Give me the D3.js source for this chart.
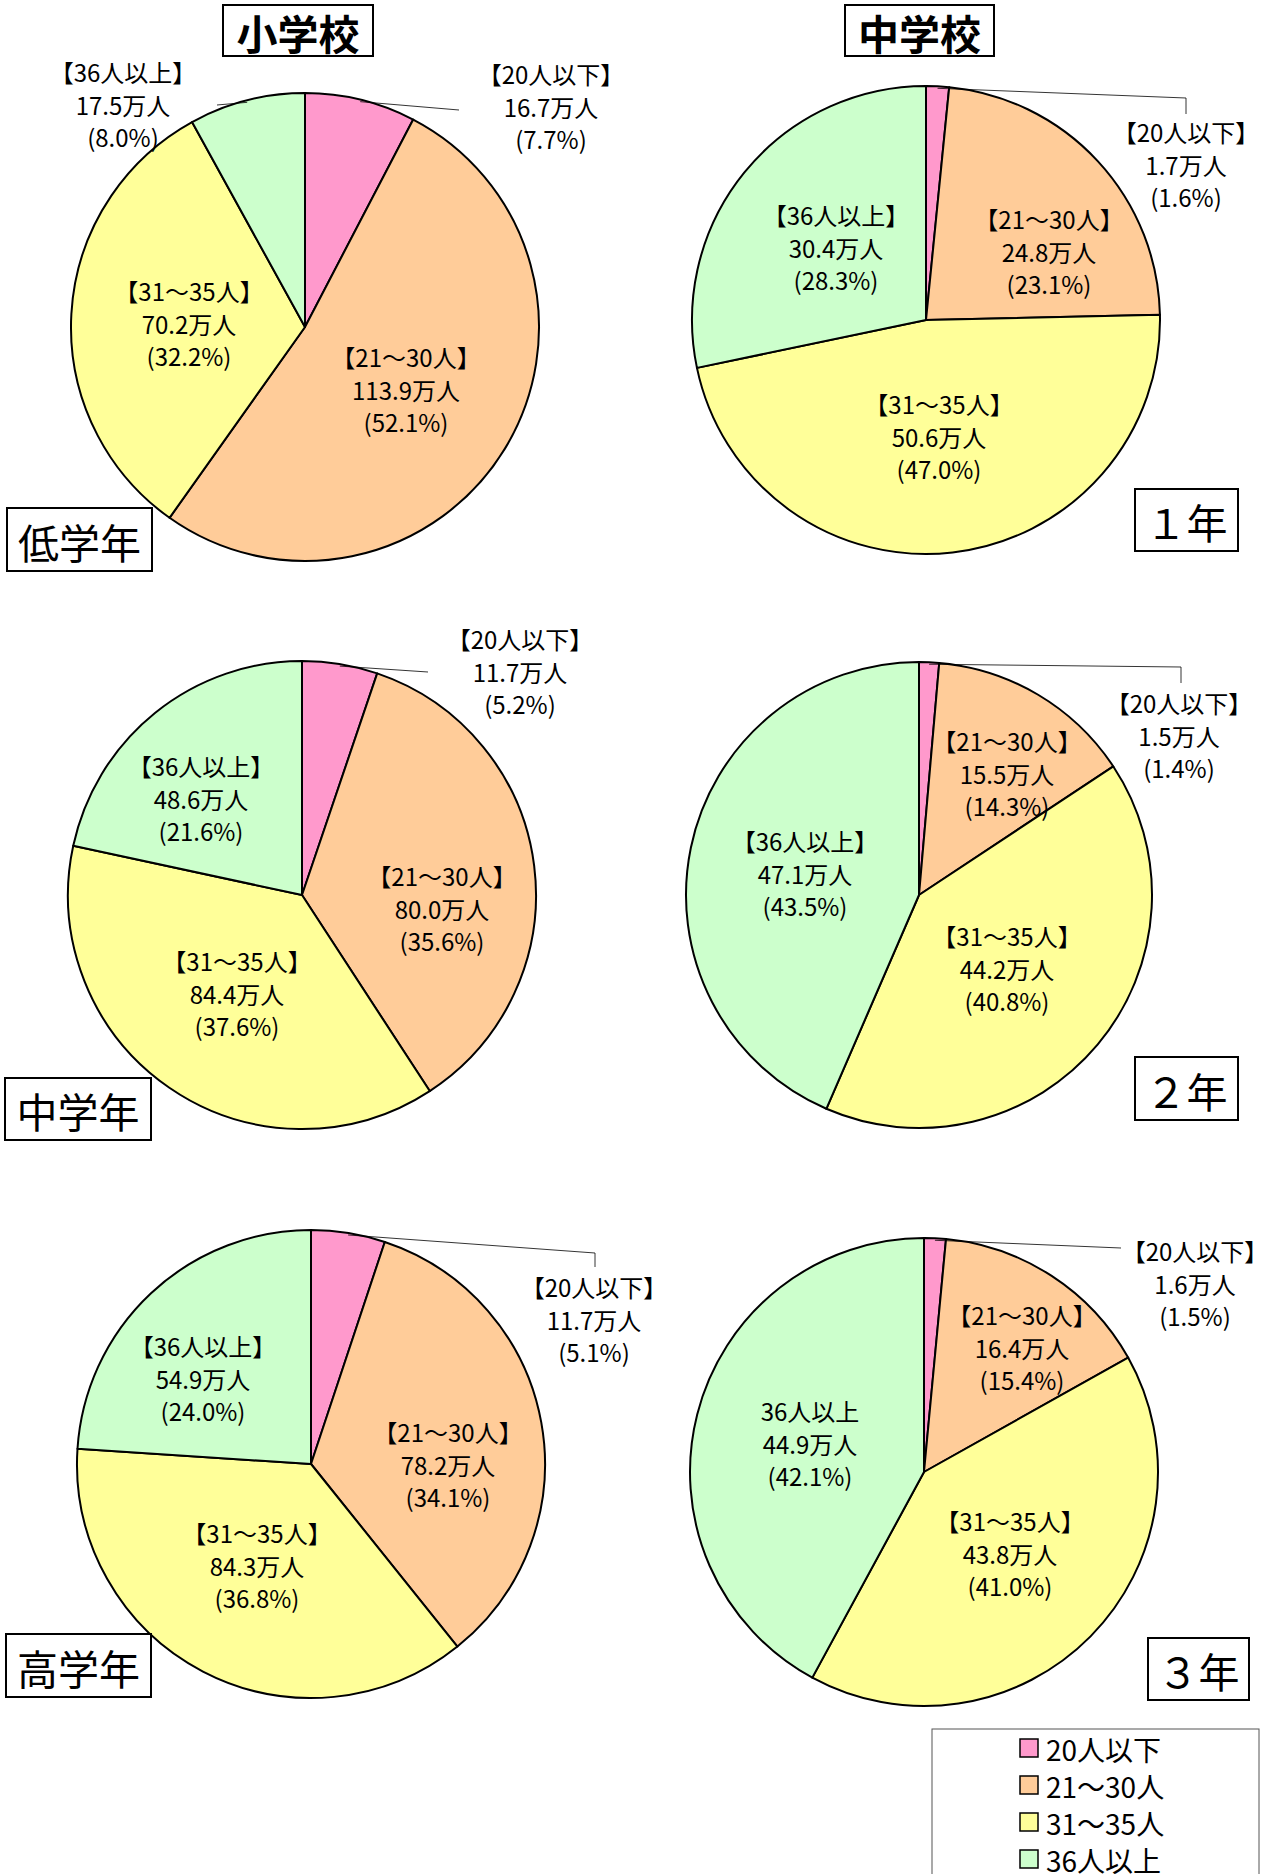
<!DOCTYPE html>
<html>
<head>
<meta charset="utf-8">
<script src="https://cdn.jsdelivr.net/npm/d3@7"></script>
<style>
  body { margin: 0; background: #fff; }
  text { font-family: "Noto Sans CJK JP", "Noto Sans", sans-serif; fill: #000; }
</style>
</head>
<body>
<svg id="chart"></svg>
<script>
// ---- data ----
const categories = ['20人以下', '21～30人', '31～35人', '36人以上'];
const groups = ['低学年', '中学年', '高学年', '１年', '２年', '３年'];
const schools = ['小学校', '中学校'];
// 万人, in the order of categories
const people = [
  [16.7, 113.9, 70.2, 17.5],
  [11.7, 80.0, 84.4, 48.6],
  [11.7, 78.2, 84.3, 54.9],
  [1.7, 24.8, 50.6, 30.4],
  [1.5, 15.5, 44.2, 47.1],
  [1.6, 16.4, 43.8, 44.9]
];
// %
const shares = [
  [7.7, 52.1, 32.2, 8.0],
  [5.2, 35.6, 37.6, 21.6],
  [5.1, 34.1, 36.8, 24.0],
  [1.6, 23.1, 47.0, 28.3],
  [1.4, 14.3, 40.8, 43.5],
  [1.5, 15.4, 41.0, 42.1]
];
const colors = ['#FF99CC', '#FFCC99', '#FFFF99', '#CCFFCC'];

// ---- layout ----
const W = 1276, H = 1874;
const pies = [
  { cx: 305, cy: 327, r: 234, box: [7, 508, 145, 63],
    labels: [[246, -221], [101, 62], [-116, -4], [-182, -223]],
    leaders: [{ i: 0, pts: [[-92, 4]] }, { i: 3, pts: [[94, 1]] }] },
  { cx: 302, cy: 895, r: 234, box: [5, 1078, 146, 62],
    labels: [[218, -224], [140, 13], [-65, 98], [-101, -97]],
    leaders: [{ i: 0, pts: [[-92, 1]] }] },
  { cx: 311, cy: 1464, r: 234, box: [6, 1634, 145, 63],
    labels: [[283, -145], [137, 0], [-54, 101], [-108, -86]],
    leaders: [{ i: 0, pts: [[1, -66], [1, -52]] }] },
  { cx: 926, cy: 320, r: 234, box: [1135, 489, 103, 62],
    labels: [[260, -156], [123, -69], [13, 116], [-90, -73]],
    leaders: [{ i: 0, pts: [[0, -66], [0, -50]] }] },
  { cx: 919, cy: 895, r: 233, box: [1135, 1057, 103, 63],
    labels: [[260, -160], [88, -122], [88, 73], [-114, -22]],
    leaders: [{ i: 0, pts: [[2, -68], [2, -52]] }] },
  { cx: 924, cy: 1472, r: 234, box: [1148, 1638, 101, 62],
    labels: [[271, -189], [98, -125], [86, 81], [-114, -29]],
    leaders: [{ i: 0, pts: [[-74, -35]] }], plain: [3] }
];
const titleBoxes = [[223, 5, 150, 51], [845, 5, 149, 51]];
const lineGap = 32.5;

const svg = d3.select('#chart').attr('width', W).attr('height', H);
svg.append('rect').attr('width', W).attr('height', H).attr('fill', '#fff');

const pie = d3.pie().sort(null).value(d => d);
const fmt = d3.format('.1f');

pies.forEach((L, gi) => {
  const g = svg.append('g').attr('transform', `translate(${L.cx},${L.cy})`);
  const arcs = pie(people[gi]);
  const arc = d3.arc().innerRadius(0).outerRadius(L.r);

  g.selectAll('path.slice')
    .data(arcs)
    .join('path')
    .attr('class', 'slice')
    .attr('d', arc)
    .attr('fill', (d, i) => colors[i])
    .attr('stroke', '#000')
    .attr('stroke-width', 2)
    .attr('stroke-linejoin', 'round');

  // leader lines
  L.leaders.forEach(ld => {
    const a = arcs[ld.i];
    const mid = (a.startAngle + a.endAngle) / 2;
    const start = [Math.sin(mid) * (L.r - 2), -Math.cos(mid) * (L.r - 2)];
    const [lx, ly] = L.labels[ld.i];
    const pts = [start].concat(ld.pts.map(p => [lx + p[0], ly + p[1]]));
    g.append('path')
      .attr('d', d3.line()(pts))
      .attr('fill', 'none')
      .attr('stroke', '#000')
      .attr('stroke-width', 0.8);
  });

  // data labels
  arcs.forEach((a, i) => {
    const [lx, ly] = L.labels[i];
    const plain = L.plain && L.plain.includes(i);
    const lines = [
      plain ? categories[i] : `【${categories[i]}】`,
      `${fmt(people[gi][i])}万人`,
      `(${fmt(shares[gi][i])}%)`
    ];
    const t = g.append('text')
      .attr('text-anchor', 'middle')
      .style('font-size', '24px');
    lines.forEach((s, k) => {
      t.append('tspan')
        .attr('x', lx)
        .attr('y', ly + (k - 1) * lineGap)
        .attr('dominant-baseline', 'central')
        .text(s);
    });
  });

  // group box
  const [bx, by, bw, bh] = L.box;
  svg.append('rect')
    .attr('x', bx).attr('y', by).attr('width', bw).attr('height', bh)
    .attr('fill', '#fff').attr('stroke', '#000').attr('stroke-width', 2);
  svg.append('text')
    .attr('x', bx + bw / 2).attr('y', by + bh / 2 + 1)
    .attr('text-anchor', 'middle')
    .attr('dominant-baseline', 'central')
    .style('font-size', '41px')
    .text(groups[gi]);
});

// school titles
titleBoxes.forEach(([x, y, w, h], i) => {
  svg.append('rect')
    .attr('x', x).attr('y', y).attr('width', w).attr('height', h)
    .attr('fill', '#fff').attr('stroke', '#000').attr('stroke-width', 2);
  svg.append('text')
    .attr('x', x + w / 2).attr('y', y + h / 2 + 1)
    .attr('text-anchor', 'middle')
    .attr('dominant-baseline', 'central')
    .style('font-size', '41px')
    .style('font-weight', 'bold')
    .text(schools[i]);
});

// legend
const legend = svg.append('g');
legend.append('rect')
  .attr('x', 932).attr('y', 1729).attr('width', 327).attr('height', 160)
  .attr('fill', '#fff').attr('stroke', '#555').attr('stroke-width', 1);
const rowY = d3.scalePoint().domain(categories).range([1748, 1859]);
categories.forEach((c, i) => {
  legend.append('rect')
    .attr('x', 1020).attr('y', rowY(c) - 9).attr('width', 18).attr('height', 18)
    .attr('fill', colors[i]).attr('stroke', '#000').attr('stroke-width', 1.5);
  legend.append('text')
    .attr('x', 1046).attr('y', rowY(c) + 1)
    .attr('dominant-baseline', 'central')
    .style('font-size', '28px')
    .text(c);
});
</script>
</body>
</html>
